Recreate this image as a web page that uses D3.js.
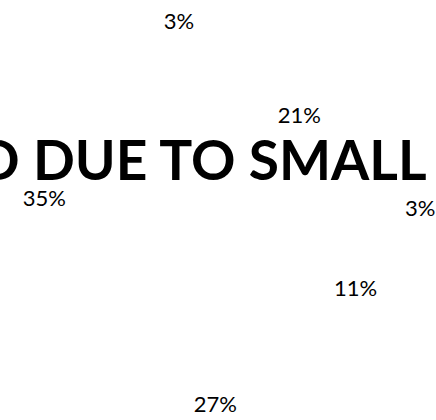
<!DOCTYPE html>
<html><head><meta charset="utf-8">
<script src="https://cdn.jsdelivr.net/npm/d3@7"></script>
<style>html,body{margin:0;padding:0;background:#fff;overflow:hidden}</style>
</head><body>
<svg id="chart" width="436" height="420"></svg>
<script>
const categories = ["A", "B", "C", "D", "E", "F"];
const values = [21, 3, 11, 27, 35, 3];
const labels = ["21%", "3%", "11%", "27%", "35%", "3%"];
const titleText = "NOT DISPLAYED DUE TO SMALL SAMPLE SIZE";

const W = 436, H = 420;
const svg = d3.select("#chart");
const cx = 200, cy = 243, R = 190;
const g = svg.append("g").attr("transform", `translate(${cx},${cy})`);

const pie = d3.pie().sort(null).startAngle(0).endAngle(2 * Math.PI);
const arcs = pie(values);
const arc = d3.arc().innerRadius(0).outerRadius(R);

g.selectAll("path.slice").data(arcs).enter().append("path")
  .attr("class", "slice").attr("d", arc)
  .attr("fill", "#ffffff").attr("stroke", "#ffffff");

const inArc = d3.arc().innerRadius(162).outerRadius(162);
const outArc = d3.arc().innerRadius(223).outerRadius(223);

g.selectAll("text.lbl").data(arcs).enter().append("text")
  .attr("class", "lbl")
  .attr("transform", d => `translate(${(d.data < 5 ? outArc : inArc).centroid(d)})`)
  .attr("text-anchor", "middle").attr("dy", "0.35em")
  .style("font-family", "Lato, 'Open Sans', sans-serif")
  .style("font-size", "22px").attr("fill", "#000")
  .text((d, i) => labels[i]);

// Title (overflowing, clipped by the frame)
const tg = svg.append("g");
const t = tg.append("text")
  .style("font-family", "Lato, 'Open Sans', sans-serif")
  .style("font-weight", "bold").style("font-size", "56px")
  .attr("fill", "#000").attr("y", 180).text(titleText);
const seg = "DUE TO SMALL";
const idx = titleText.indexOf(seg);
const segW = t.node().getSubStringLength(idx, seg.length);
const sx = 392 / segW;
const off = t.node().getSubStringLength(0, idx);
t.attr("x", -off);
tg.attr("transform", `translate(33,0) scale(${sx},1)`);
</script>
</body></html>
